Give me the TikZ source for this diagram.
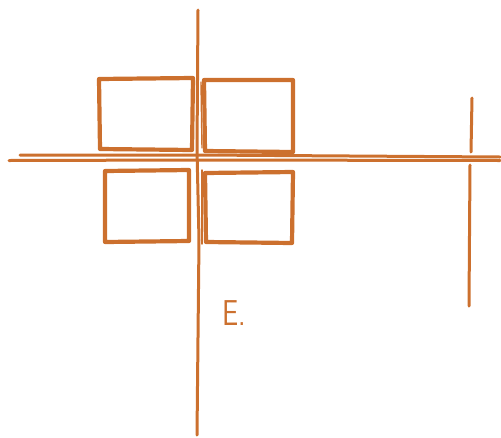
\documentclass[tikz,border=0pt]{standalone}
\usepackage{tikz}
\usetikzlibrary{calc}

\definecolor{sketch}{RGB}{204,112,46}

\begin{document}
\begin{tikzpicture}[x=1pt, y=-1pt, line cap=round, line join=round,
    pen/.style={draw=sketch, line width=4.2pt},
    thinpen/.style={draw=sketch, line width=3pt}]

    \useasboundingbox (0,0) rectangle (501,437);

    % --- 1. Window panes ---
    \draw[pen] (99,79) -- (193,78) -- (192,150) -- (100,149) -- cycle;
    \draw[pen] (204,80) -- (293,80) -- (293,152) -- (205,151) -- cycle;
    \draw[pen] (105,171) -- (189,170) -- (189,241) -- (105,242) -- cycle;
    \draw[pen] (205,173) -- (293,172) -- (292,243) -- (206,242) -- cycle;

    % --- 2. Main cross ---
    % Vertical stroke
    \draw[thinpen] (198,10) -- (197,150) -- (199,240) -- (197,435);
    \draw[sketch, line width=1.4pt] (201,82) -- (202,148);
    \draw[sketch, line width=1.4pt] (202,170) -- (202,244);
    % Horizontal double stroke
    \draw[thinpen] (20,155) -- (200,155) -- (500,157);
    \draw[thinpen] (9,160.5) -- (200,160) -- (500,160.5);

    % --- 3. Right post ---
    \draw[thinpen] (472,98) -- (471,152);
    \draw[thinpen] (470,165) -- (469,306);

    % Label
    \node[text=sketch, font=\sffamily\fontsize{36}{38}\selectfont, xscale=0.8,
        anchor=base west, inner sep=0pt] (lbl) at (222,325) {E.};
\end{tikzpicture}
\end{document}
